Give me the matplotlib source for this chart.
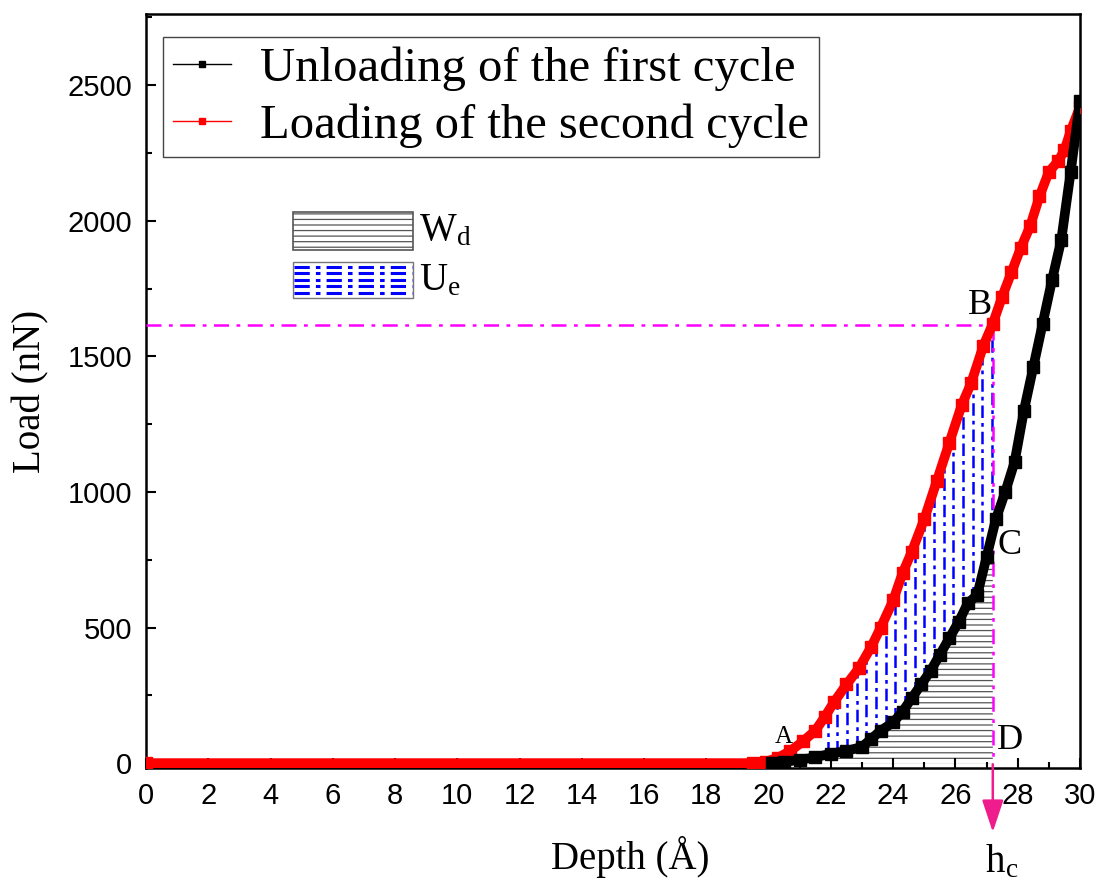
import numpy as np
import matplotlib
matplotlib.use("Agg")
import matplotlib.pyplot as plt
from matplotlib.lines import Line2D
from matplotlib.patches import Rectangle

plt.rcParams['font.family'] = ['Liberation Serif', 'DejaVu Serif']
plt.rcParams['mathtext.fontset'] = 'stix'
plt.rcParams['hatch.linewidth'] = 0.9

# loading of the second cycle (red)
load2_depth = [0, 19.5, 19.9, 20.3, 20.7, 21.1, 21.5, 21.8, 22.1, 22.5, 22.9, 23.3,
               23.6, 24.0, 24.3, 24.6, 25.0, 25.4, 25.8, 26.2, 26.5, 26.9, 27.2, 27.5,
               27.8, 28.1, 28.4, 28.7, 29.0, 29.3, 29.5, 29.7, 30.0]
load2_load = [0, 0, 5, 20, 45, 80, 120, 170, 225, 290, 350, 430,
              500, 600, 700, 780, 900, 1040, 1180, 1320, 1400, 1540, 1620, 1720,
              1810, 1900, 1980, 2090, 2180, 2220, 2260, 2330, 2420]

# unloading of the first cycle (black)
unload1_depth = [20.1, 20.5, 21.0, 21.5, 22.0, 22.5, 23.0, 23.3, 23.6, 24.0, 24.3, 24.6,
                 24.9, 25.2, 25.5, 25.8, 26.1, 26.4, 26.7, 27.0, 27.3, 27.6, 27.9, 28.2,
                 28.5, 28.8, 29.1, 29.4, 29.7, 30.0]
unload1_load = [0, 5, 12, 22, 35, 45, 60, 90, 120, 150, 190, 240,
                290, 340, 400, 460, 520, 590, 620, 760, 900, 1000, 1110, 1300,
                1460, 1620, 1780, 1930, 2180, 2440]

hc = 27.2        # contact depth (Å)
load_B = 1615    # load at point B (nN)

x_ticks = list(range(0, 31, 2))
y_ticks = [0, 500, 1000, 1500, 2000, 2500]

fig = plt.figure(figsize=(11.02, 8.84), dpi=100)
ax = fig.add_axes([0.1325, 0.1312, 0.8475, 0.8528])

d2 = np.array(load2_depth)
l2 = np.array(load2_load)
d1 = np.array(unload1_depth)
l1 = np.array(unload1_load)

# W_d : area below the unloading curve up to hc
m = d1 < hc
wx = np.append(d1[m], hc)
wy = np.append(l1[m], np.interp(hc, d1, l1))
ax.fill_between(wx, 0, wy, facecolor='none', edgecolor='#555555', hatch='---',
                linewidth=0, zorder=1)

# U_e : between the two curves, blue dash-dot verticals
xs = np.arange(21.9, hc, 0.31)
ax.vlines(xs, np.interp(xs, d1, l1), np.interp(xs, d2, l2), colors='blue',
          linestyles=(0, (5, 2, 1.5, 2)), linewidth=1.8, zorder=2)

# magenta guide lines
ax.plot([0, hc], [load_B, load_B], color='magenta', ls=(0, (6, 3, 1.5, 3)), lw=1.8, zorder=3)
ax.plot([hc, hc], [load_B, 0], color='magenta', ls=(0, (6, 3, 1.5, 3)), lw=1.8, zorder=3)
ax.annotate('', xy=(hc, -0.085), xycoords=ax.get_xaxis_transform(),
            xytext=(hc, 0.005), textcoords=ax.get_xaxis_transform(),
            arrowprops=dict(arrowstyle='-|>,head_width=0.3,head_length=0.9',
                            color='#ee1c8c', lw=1.8, mutation_scale=22,
                            shrinkA=0, shrinkB=0),
            annotation_clip=False)

# curves
ax.plot(d2, l2, color='red', lw=7, solid_capstyle='butt', marker='s', ms=8, zorder=4)
ax.plot(d1, l1, color='black', lw=7, solid_capstyle='butt', marker='s', ms=8, zorder=5)

# point labels
ax.text(20.5, 96, 'A', fontsize=18, ha='center', va='center')
ax.text(26.79, 1689, 'B', fontsize=26, ha='center', va='center')
ax.text(27.75, 804, 'C', fontsize=26, ha='center', va='center')
ax.text(27.75, 85, 'D', fontsize=26, ha='center', va='center')
ax.text(26.95, -0.139, r'h$_\mathregular{c}$', fontsize=28, ha='left', va='baseline',
        transform=ax.get_xaxis_transform(), clip_on=False)

# W_d / U_e key
ax.add_patch(Rectangle((0.157, 0.687), 0.129, 0.05, transform=ax.transAxes,
                       facecolor='none', edgecolor='#555555', hatch='---', lw=1.2))
ax.add_patch(Rectangle((0.157, 0.623), 0.129, 0.048, transform=ax.transAxes,
                       facecolor='none', edgecolor='#777777', lw=1.0))
for yy in np.linspace(0.630, 0.665, 5):
    ax.plot([0.158, 0.285], [yy, yy], transform=ax.transAxes, color='blue',
            ls=(0, (5, 2, 1.5, 2)), lw=2.2)
ax.text(0.292, 0.712, r'W$_\mathregular{d}$', transform=ax.transAxes, fontsize=28,
        ha='left', va='center')
ax.text(0.292, 0.646, r'U$_\mathregular{e}$', transform=ax.transAxes, fontsize=28,
        ha='left', va='center')

handles = [Line2D([], [], color='black', lw=1, marker='s', ms=5),
           Line2D([], [], color='red', lw=1, marker='s', ms=5)]
leg = ax.legend(handles, ['Unloading of the first cycle', 'Loading of the second cycle'],
                loc='upper left', bbox_to_anchor=(0.018, 0.97), fontsize=35,
                frameon=True, fancybox=False, edgecolor='#444444', framealpha=1,
                borderpad=0.2, labelspacing=0.25, handlelength=1.2, handletextpad=0.6,
                borderaxespad=0)
leg.get_frame().set_linewidth(1.0)

ax.set_xlim(0, 30)
ax.set_ylim(-18, 2762)
ax.set_xticks(x_ticks)
ax.set_yticks(y_ticks)
ax.set_xticks(np.arange(0, 31, 1), minor=True)
ax.set_yticks(np.arange(0, 2751, 250), minor=True)
ax.tick_params(which='both', direction='in', width=1.5, top=False, right=False,
               labelsize=21, pad=10)
ax.tick_params(which='major', length=7)
ax.tick_params(which='minor', length=4)
for lab in ax.get_xticklabels() + ax.get_yticklabels():
    lab.set_family(['Liberation Sans', 'DejaVu Sans'])
for s in ax.spines.values():
    s.set_linewidth(1.8)

ax.set_xlabel('Depth (Å)', fontsize=28)
ax.xaxis.set_label_coords(0.518, -0.09)
ax.set_ylabel('Load (nN)', fontsize=28)
ax.yaxis.set_label_coords(-0.103, 0.5)

fig.savefig('out.png', dpi=100)
